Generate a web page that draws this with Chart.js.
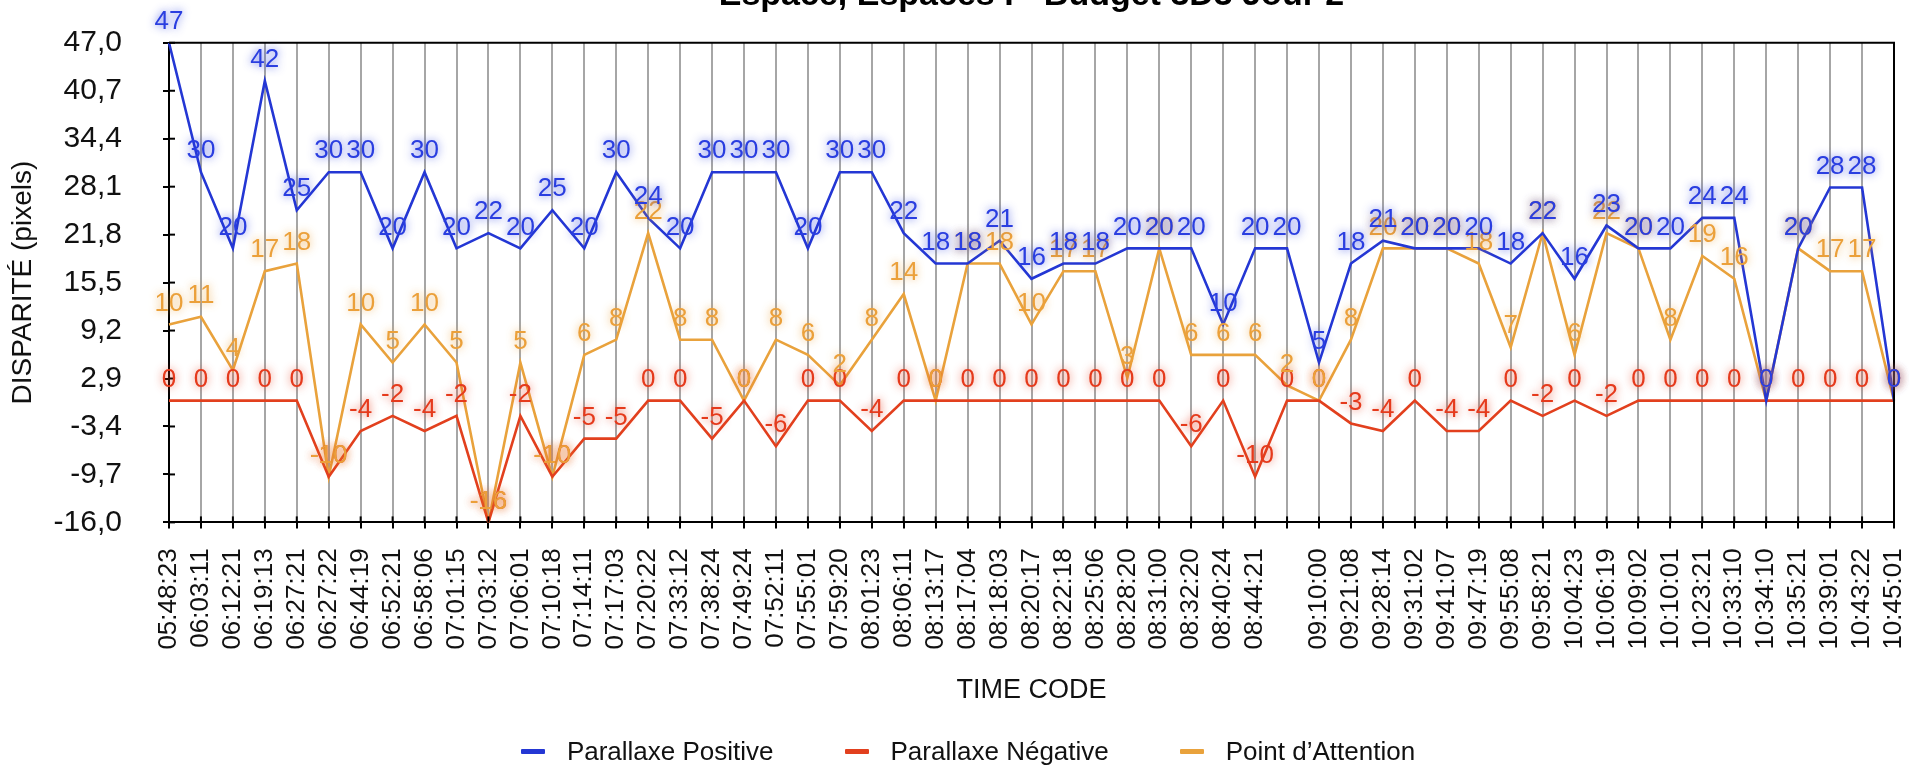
<!DOCTYPE html>
<html>
<head>
<meta charset="utf-8">
<script src="https://cdn.jsdelivr.net/npm/chart.js@4.4.1/dist/chart.umd.min.js"></script>
<style>
    html, body { margin: 0; padding: 0; background: #fff; overflow: hidden; }
    body { width: 1922px; height: 769px; position: relative; font-family: 'Liberation Sans', Arial, sans-serif; }
    #wrap { position: absolute; left: 0; top: -25px; width: 1922px; height: 794px; }
    #legend { position: absolute; left: 7px; top: 736px; width: 1922px; display: flex; justify-content: center; gap: 71px; font-size: 26px; color: #111; }
    .item { display: flex; align-items: center; }
    .mark { width: 24px; height: 5px; margin-right: 22px; border-radius: 1px; }
</style>
</head>
<body>
<div id="wrap"><canvas id="chart"></canvas></div>
<div id="legend"></div>
<script>
const timeCodes = ['05:48:23','06:03:11','06:12:21','06:19:13','06:27:21','06:27:22','06:44:19','06:52:21','06:58:06','07:01:15',
    '07:03:12','07:06:01','07:10:18','07:14:11','07:17:03','07:20:22','07:33:12','07:38:24','07:49:24','07:52:11',
    '07:55:01','07:59:20','08:01:23','08:06:11','08:13:17','08:17:04','08:18:03','08:20:17','08:22:18','08:25:06',
    '08:28:20','08:31:00','08:32:20','08:40:24','08:44:21','','09:10:00','09:21:08','09:28:14','09:31:02',
    '09:41:07','09:47:19','09:55:08','09:58:21','10:04:23','10:06:19','10:09:02','10:10:01','10:23:21','10:33:10',
    '10:34:10','10:35:21','10:39:01','10:43:22','10:45:01'];

const parallaxePositive = [47,30,20,42,25,30,30,20,30,20, 22,20,25,20,30,24,20,30,30,30,
    20,30,30,22,18,18,21,16,18,18, 20,20,20,10,20,20,5,18,21,20, 20,20,18,22,16,23,20,20,24,24, 0,20,28,28,0];
const parallaxeNegative = [0,0,0,0,0,-10,-4,-2,-4,-2, -16,-2,-10,-5,-5,0,0,-5,0,-6,
    0,0,-4,0,0,0,0,0,0,0, 0,0,-6,0,-10,0,0,-3,-4,0, -4,-4,0,-2,0,-2,0,0,0,0, 0,0,0,0,0];
const pointAttention = [10,11,4,17,18,-10,10,5,10,5, -16,5,-10,6,8,22,8,8,0,8,
    6,2,8,14,0,18,18,10,17,17, 3,20,6,6,6,2,0,8,20,20, 20,18,7,22,6,22,20,8,19,16, 0,20,17,17,0];

const yTicks = [-16.0, -9.7, -3.4, 2.9, 9.2, 15.5, 21.8, 28.1, 34.4, 40.7, 47.0];

const seriesNames = ['Parallaxe Positive', 'Parallaxe Négative', 'Point d\u2019Attention'];
const seriesColors = ['#2437D4', '#E2401E', '#E9A23C'];
const labelColors = ['#2a3ee0', '#e53a1c', '#eba03a'];

const FONT = "'Liberation Sans', Arial, sans-serif";

// valeurs au-dessus des points, bordure haut/droite, petites graduations intérieures
const extras = {
    id: 'extras',
    afterDatasetsDraw(chart) {
        const ctx = chart.ctx;
        const area = chart.chartArea;
        ctx.save();
        ctx.strokeStyle = '#000';
        ctx.lineWidth = 2;
        ctx.beginPath();
        ctx.moveTo(area.left, area.top);
        ctx.lineTo(area.right, area.top);
        ctx.lineTo(area.right, area.bottom);
        ctx.stroke();

        const yScale = chart.scales.y;
        yTicks.forEach(v => {
            const y = yScale.getPixelForValue(v);
            ctx.beginPath();
            ctx.moveTo(area.left, y);
            ctx.lineTo(area.left + 6, y);
            ctx.stroke();
        });
        const xScale = chart.scales.x;
        timeCodes.forEach((t, i) => {
            const x = xScale.getPixelForValue(i);
            ctx.beginPath();
            ctx.moveTo(x, area.bottom);
            ctx.lineTo(x, area.bottom - 6);
            ctx.stroke();
        });

        ctx.font = '26px ' + FONT;
        ctx.textAlign = 'center';
        ctx.textBaseline = 'middle';
        [1, 2, 0].forEach(d => {
            const meta = chart.getDatasetMeta(d);
            const data = chart.data.datasets[d].data;
            ctx.fillStyle = labelColors[d];
            ctx.shadowColor = labelColors[d] + 'cc';
            ctx.shadowBlur = 8;
            meta.data.forEach((pt, i) => {
                ctx.fillText(String(data[i]), pt.x, pt.y - 21);
            });
        });
        ctx.restore();
    }
};

new Chart(document.getElementById('chart'), {
    type: 'line',
    data: {
        labels: timeCodes,
        datasets: [
            { label: seriesNames[0], data: parallaxePositive, borderColor: seriesColors[0], backgroundColor: seriesColors[0] },
            { label: seriesNames[1], data: parallaxeNegative, borderColor: seriesColors[1], backgroundColor: seriesColors[1] },
            { label: seriesNames[2], data: pointAttention, borderColor: seriesColors[2], backgroundColor: seriesColors[2] }
        ]
    },
    options: {
        responsive: true,
        maintainAspectRatio: false,
        animation: false,
        layout: { padding: { left: 0, right: 28, top: 0, bottom: 60 } },
        elements: {
            line: { borderWidth: 2.6, tension: 0 },
            point: { radius: 0, hoverRadius: 0 }
        },
        plugins: {
            legend: { display: false },
            tooltip: { enabled: false },
            title: {
                display: true,
                fullSize: false,
                text: 'Espace, Espaces I - Budget 3D3 Jour 2',
                color: '#000',
                font: { family: FONT, size: 34, weight: 'bold' },
                padding: { top: 0, bottom: 27 }
            }
        },
        scales: {
            x: {
                offset: false,
                afterFit: axis => { axis.paddingLeft = 0; axis.paddingRight = 0; },
                grid: { color: '#a6a6a6', lineWidth: 2, tickColor: '#000', tickLength: 6 },
                border: { color: '#000', width: 2 },
                ticks: {
                    autoSkip: false, maxRotation: 90, minRotation: 90, padding: 20,
                    color: '#111', font: { family: FONT, size: 26 }
                },
                title: {
                    display: true, text: 'TIME CODE', color: '#111',
                    font: { family: FONT, size: 27 }, padding: { top: 5, bottom: 2 }
                }
            },
            y: {
                min: -16, max: 47,
                afterFit: axis => { axis.width = 169; },
                afterBuildTicks: axis => { axis.ticks = yTicks.map(v => ({ value: v })); },
                grid: { drawOnChartArea: false, tickColor: '#000', tickLength: 6, lineWidth: 2 },
                border: { color: '#000', width: 2 },
                ticks: {
                    padding: 41, color: '#111', font: { family: FONT, size: 30 },
                    callback: v => v.toFixed(1).replace('.', ',')
                },
                title: {
                    display: true, text: 'DISPARITÉ (pixels)', color: '#111',
                    font: { family: FONT, size: 28 }, padding: { top: 6, bottom: 10 }
                }
            }
        }
    },
    plugins: [extras]
});

const legend = document.getElementById('legend');
seriesNames.forEach((name, i) => {
    const item = document.createElement('div');
    item.className = 'item';
    const mark = document.createElement('span');
    mark.className = 'mark';
    mark.style.background = seriesColors[i];
    const txt = document.createElement('span');
    txt.textContent = name;
    item.appendChild(mark);
    item.appendChild(txt);
    legend.appendChild(item);
});
</script>
</body>
</html>
